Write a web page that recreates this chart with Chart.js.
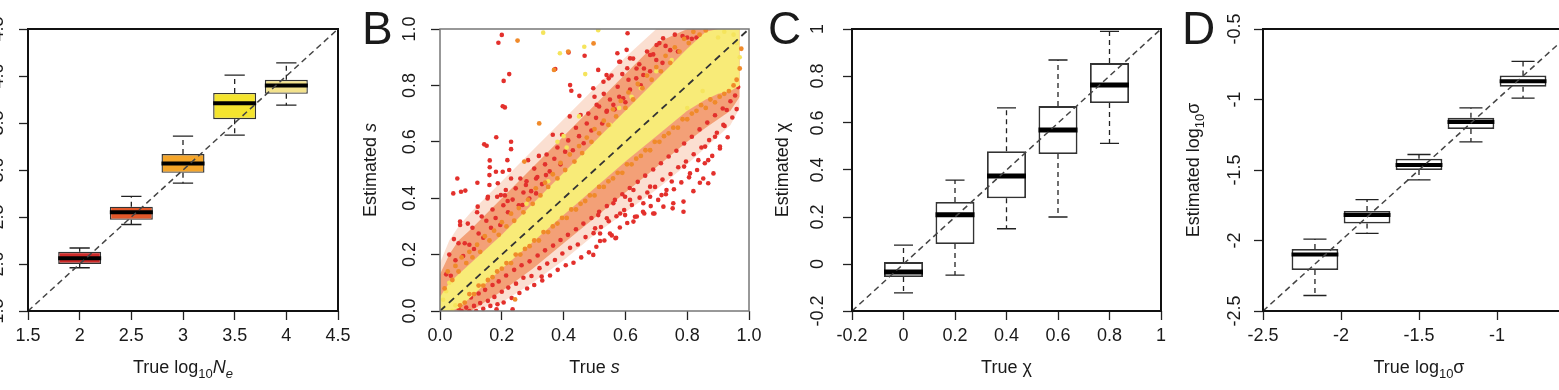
<!DOCTYPE html>
<html><head><meta charset="utf-8">
<script src="https://cdn.jsdelivr.net/npm/chart.js@4.4.1/dist/chart.umd.min.js"></script>
<style>
html,body{margin:0;padding:0;overflow:hidden;background:#fff;}
#wrap{position:relative;width:1559px;height:390px;overflow:hidden;background:#fff;}
canvas{position:absolute;top:0;}
</style></head><body>
<div id="wrap">
<canvas id="cA" style="left:-80px" width="460" height="390"></canvas>
<canvas id="cB" style="left:300px" width="480" height="390"></canvas>
<canvas id="cC" style="left:700px" width="480" height="390"></canvas>
<canvas id="cD" style="left:1100px" width="520" height="390"></canvas>
</div>
<script>
const FONT = '"Liberation Sans", Arial, Helvetica, sans-serif';

// ---------------- Panel A : log10 Ne ----------------
const aTrue  = [2, 2.5, 3, 3.5, 4];
const aLow   = [1.96, 2.42, 2.86, 3.37, 3.69];
const aQ1    = [2.00, 2.47, 2.97, 3.54, 3.81];
const aMed   = [2.06, 2.55, 3.07, 3.71, 3.90];
const aQ3    = [2.13, 2.61, 3.17, 3.82, 3.96];
const aHigh  = [2.17, 2.72, 3.36, 4.01, 4.14];
const aTicks = [1.5, 2, 2.5, 3, 3.5, 4, 4.5];
const aXLabels = ['1.5','2','2.5','3','3.5','4','4.5'];
const aYLabels = ['1.5','2.0','2.5','3.0','3.5','4.0','4.5'];

// ---------------- Panel B : s scatter ----------------
const bTicks  = [0, 0.2, 0.4, 0.6, 0.8, 1.0];
const bLabels = ['0.0','0.2','0.4','0.6','0.8','1.0'];
const bBandS   = [0, 0.03, 0.06, 0.1, 0.2, 0.3, 0.4, 0.5, 0.6, 0.7, 0.8, 0.86, 0.9, 0.94, 0.97];
const bCoreHi  = [0.05, 0.10, 0.13, 0.17, 0.27, 0.38, 0.49, 0.60, 0.71, 0.82, 0.93, 0.99, 1.0, 1.0, 1.0];
const bCoreLo  = [0.0, 0.0, 0.01, 0.05, 0.15, 0.245, 0.34, 0.435, 0.53, 0.62, 0.71, 0.75, 0.77, 0.78, 0.80];
const bMidHi   = [0.13, 0.20, 0.25, 0.29, 0.40, 0.51, 0.62, 0.73, 0.84, 0.95, 1.0, 1.0, 1.0, 1.0, 1.0];
const bMidLo   = [0.0, 0.0, 0.0, 0.0, 0.07, 0.15, 0.24, 0.33, 0.42, 0.51, 0.60, 0.65, 0.68, 0.71, 0.76];
const bFringeHi = [0.17, 0.25, 0.30, 0.35, 0.46, 0.57, 0.68, 0.79, 0.90, 1.0, 1.0, 1.0, 1.0, 1.0, 1.0];
const bFringeLo = [0.0, 0.0, 0.0, 0.0, 0.03, 0.10, 0.18, 0.27, 0.35, 0.43, 0.52, 0.58, 0.62, 0.66, 0.72];
const bRed = [
 // sparse upper outliers
 [0.200,0.979],[0.189,0.951],[0.206,0.816],[0.224,0.840],[0.203,0.726],[0.210,0.722],[0.182,0.616],[0.143,0.591],[0.151,0.586],
 [0.161,0.534],[0.161,0.510],[0.056,0.470],[0.043,0.417],[0.068,0.423],[0.082,0.427],[0.121,0.455],[0.065,0.317],[0.373,0.858],
 [0.416,0.917],[0.421,0.801],[0.425,0.781],[0.451,0.763],[0.468,0.905],[0.512,0.855],[0.574,0.914],[0.607,0.985],[0.606,0.861],
 [0.580,0.884],[0.539,0.837],[0.546,0.825],[0.230,0.600],[0.230,0.574],[0.218,0.535],
 [0.154,0.399],[0.122,0.370],[0.160,0.482],[0.181,0.494],[0.203,0.494],[0.224,0.500],[0.160,0.447],[0.187,0.453],[0.213,0.429],
 [0.197,0.411],[0.219,0.390],[0.267,0.376],[0.289,0.399],[0.311,0.417],[0.278,0.447],[0.311,0.470],[0.343,0.482],
 [0.604,0.926],[0.583,0.884],[0.615,0.896],[0.636,0.860],[0.658,0.837],[0.529,0.813],[0.496,0.790],[0.507,0.731],[0.539,0.707],
 [0.561,0.731],[0.593,0.754],[0.701,0.943],[0.722,0.967],[0.680,0.908],
 // dense upper band
 [0.02,0.13],[0.03,0.20],[0.035,0.125],[0.045,0.255],[0.05,0.18],[0.06,0.24],[0.065,0.305],[0.075,0.195],[0.08,0.24],[0.09,0.31],
 [0.095,0.235],[0.105,0.295],[0.11,0.22],[0.12,0.35],[0.125,0.275],[0.135,0.335],[0.14,0.26],[0.15,0.32],[0.155,0.405],[0.165,0.295],
 [0.17,0.36],[0.18,0.33],[0.185,0.405],[0.195,0.305],[0.205,0.375],[0.21,0.41],[0.22,0.35],[0.23,0.47],[0.235,0.395],[0.245,0.435],
 [0.255,0.375],[0.26,0.47],[0.27,0.42],[0.28,0.46],[0.285,0.535],[0.295,0.425],[0.305,0.505],[0.315,0.475],[0.32,0.55],[0.33,0.45],
 [0.34,0.52],[0.345,0.555],[0.355,0.495],[0.365,0.625],[0.37,0.54],[0.38,0.58],[0.39,0.52],[0.395,0.625],[0.405,0.565],[0.415,0.605],
 [0.42,0.69],[0.43,0.57],[0.44,0.65],[0.45,0.62],[0.455,0.695],[0.465,0.595],[0.475,0.665],[0.48,0.70],[0.49,0.64],[0.50,0.76],
 [0.505,0.685],[0.515,0.725],[0.525,0.665],[0.53,0.77],[0.54,0.71],[0.55,0.75],[0.555,0.835],[0.565,0.715],[0.575,0.795],[0.58,0.76],
 [0.59,0.84],[0.60,0.74],[0.61,0.82],[0.615,0.785],[0.625,0.895],[0.635,0.825],[0.645,0.875],[0.65,0.80],[0.66,0.86],[0.67,0.92],
 [0.68,0.85],[0.69,0.91],[0.70,0.89],[0.71,0.95],[0.72,0.88],[0.73,0.94],[0.745,0.925],[0.76,0.98],[0.77,0.92],[0.785,0.975],
 [0.80,0.97],[0.815,0.965],[0.83,0.97],
 // dense lower band
 [0.06,0.01],[0.07,0.0],[0.075,0.035],[0.085,0.012],[0.095,0.0],[0.10,0.048],[0.11,0.018],[0.117,0.0],[0.125,0.062],[0.13,0.028],
 [0.14,0.008],[0.146,0.075],[0.155,0.036],[0.163,0.018],[0.17,0.092],[0.176,0.05],[0.186,0.024],[0.19,0.105],[0.20,0.068],[0.206,0.03],
 [0.214,0.126],[0.221,0.083],[0.232,0.046],[0.24,0.146],[0.246,0.097],[0.257,0.064],[0.264,0.162],[0.27,0.118],[0.282,0.08],[0.29,0.176],
 [0.296,0.124],[0.305,0.092],[0.316,0.197],[0.322,0.152],[0.331,0.108],[0.34,0.215],[0.347,0.168],[0.356,0.126],[0.366,0.232],[0.372,0.181],
 [0.381,0.146],[0.39,0.252],[0.396,0.204],[0.407,0.162],[0.414,0.27],[0.421,0.224],[0.432,0.171],[0.44,0.29],[0.446,0.236],[0.457,0.19],
 [0.464,0.31],[0.471,0.262],[0.482,0.208],[0.49,0.33],[0.497,0.276],[0.506,0.228],[0.515,0.352],[0.521,0.298],[0.532,0.25],[0.54,0.372],
 [0.546,0.318],[0.556,0.268],[0.566,0.394],[0.571,0.336],[0.582,0.296],[0.59,0.414],[0.596,0.358],[0.606,0.312],[0.614,0.436],[0.621,0.376],
 [0.631,0.334],[0.64,0.458],[0.646,0.402],[0.657,0.352],[0.664,0.48],[0.671,0.42],[0.682,0.372],[0.69,0.502],[0.696,0.44],[0.706,0.394],
 [0.715,0.524],[0.72,0.466],[0.731,0.414],[0.74,0.548],[0.746,0.486],[0.757,0.432],[0.765,0.568],[0.771,0.51],[0.781,0.456],[0.79,0.594],
 [0.796,0.53],[0.806,0.474],[0.815,0.618],[0.821,0.556],[0.832,0.5],[0.84,0.644],[0.846,0.58],[0.857,0.524],[0.865,0.668],[0.871,0.606],
 [0.881,0.55],[0.89,0.694],[0.896,0.632],[0.906,0.576],[0.915,0.718],[0.921,0.656],[0.931,0.616],[0.94,0.744],[0.946,0.686],[0.955,0.764],
 [0.96,0.716],[0.965,0.794],
 // sparse lower outliers
 [0.788,0.388],[0.755,0.382],[0.717,0.411],[0.694,0.346],[0.661,0.346],[0.658,0.382],[0.750,0.459],[0.841,0.455],[0.868,0.453],
 [0.885,0.488],[0.906,0.583],[0.917,0.660],[0.928,0.713],[0.890,0.618],[0.858,0.583],[0.836,0.535],[0.809,0.488],[0.790,0.512],
 [0.868,0.535],[0.496,0.199],[0.568,0.258],[0.518,0.275],[0.550,0.275],[0.583,0.346],[0.615,0.394],[0.626,0.429],[0.599,0.405],
 [0.680,0.441],[0.723,0.370],[0.561,0.382],[0.329,0.122],[0.235,0.006],[0.183,0.006],[0.626,0.317],[0.599,0.340],[0.637,0.335],
 [0.690,0.346],[0.680,0.405],[0.753,0.364],[0.788,0.352],[0.733,0.429],[0.820,0.425],[0.852,0.470],[0.518,0.248],[0.570,0.260],
 [0.502,0.293],[0.540,0.329],[0.512,0.340]
];
const bOrange = [
 [0.015,0.08],[0.025,0.14],[0.04,0.11],[0.05,0.16],[0.06,0.14],[0.07,0.19],[0.085,0.17],[0.095,0.21],[0.105,0.19],[0.12,0.235],
 [0.13,0.21],[0.145,0.265],[0.16,0.25],[0.175,0.285],[0.19,0.27],[0.20,0.315],[0.215,0.30],[0.23,0.345],[0.24,0.32],[0.255,0.365],
 [0.27,0.35],[0.285,0.395],[0.30,0.38],[0.31,0.435],[0.325,0.41],[0.34,0.455],[0.35,0.44],[0.365,0.485],[0.38,0.47],[0.39,0.525],
 [0.405,0.50],[0.42,0.555],[0.435,0.53],[0.45,0.585],[0.46,0.56],[0.475,0.615],[0.49,0.60],[0.50,0.645],[0.515,0.63],[0.53,0.675],
 [0.545,0.66],[0.56,0.715],[0.57,0.69],[0.585,0.745],[0.60,0.72],[0.61,0.775],[0.625,0.75],[0.64,0.805],[0.655,0.79],[0.67,0.835],
 [0.685,0.82],[0.70,0.865],[0.715,0.85],[0.73,0.905],[0.745,0.88],[0.76,0.935],[0.775,0.92],[0.79,0.965],[0.805,0.95],[0.82,0.99],
 [0.84,0.98],[0.86,0.995],
 [0.065,0.02],[0.08,0.03],[0.095,0.06],[0.11,0.06],[0.125,0.09],[0.14,0.09],[0.155,0.11],[0.17,0.12],[0.185,0.14],[0.20,0.15],
 [0.215,0.17],[0.23,0.17],[0.245,0.20],[0.26,0.20],[0.275,0.22],[0.29,0.23],[0.305,0.25],[0.32,0.25],[0.335,0.28],[0.35,0.28],
 [0.365,0.30],[0.38,0.31],[0.395,0.33],[0.41,0.33],[0.425,0.36],[0.44,0.36],[0.455,0.38],[0.47,0.39],[0.485,0.41],[0.50,0.41],
 [0.515,0.44],[0.53,0.44],[0.545,0.46],[0.56,0.47],[0.575,0.49],[0.59,0.49],[0.605,0.52],[0.62,0.52],[0.635,0.54],[0.65,0.55],
 [0.665,0.57],[0.68,0.57],[0.695,0.60],[0.71,0.60],[0.725,0.62],[0.74,0.63],[0.755,0.65],[0.77,0.65],[0.785,0.68],[0.80,0.68],
 [0.815,0.70],[0.83,0.71],[0.845,0.73],[0.86,0.72],[0.875,0.75],[0.89,0.74],[0.905,0.76],[0.92,0.77],[0.935,0.78],[0.95,0.80],
 [0.96,0.82],[0.97,0.86],[0.975,0.93],
 [0.251,0.959],[0.415,0.920],[0.497,0.949],[0.273,0.530],[0.321,0.665],[0.369,0.855],[0.243,0.041]
];
const bYellow = [
 [0.334,0.987],[0.388,0.914],[0.467,0.937],[0.512,0.996],[0.470,0.840],[0.380,0.600],[0.400,0.620],[0.410,0.580],[0.450,0.690],
 [0.02,0.07],[0.03,0.10],[0.01,0.04],[0.04,0.00],[0.05,0.02],[0.95,0.98],[0.96,0.95],[0.97,0.90],[0.90,0.97],[0.92,0.99],
 [0.58,0.72],[0.62,0.76],[0.70,0.85],[0.75,0.89],[0.80,0.72],[0.85,0.78],[0.55,0.66],[0.65,0.79],[0.35,0.46],[0.28,0.38]
];

// ---------------- Panel C : chi ----------------
const cTrue = [0, 0.2, 0.4, 0.6, 0.8];
const cLow  = [-0.123, -0.047, 0.150, 0.200, 0.513];
const cQ1   = [-0.055, 0.085, 0.280, 0.468, 0.685];
const cMed  = [-0.034, 0.210, 0.375, 0.570, 0.762];
const cQ3   = [0.008, 0.264, 0.480, 0.672, 0.855];
const cHigh = [0.080, 0.357, 0.664, 0.868, 0.990];
const cTicks = [-0.2, 0, 0.2, 0.4, 0.6, 0.8, 1];
const cLabels = ['-0.2','0','0.2','0.4','0.6','0.8','1'];

// ---------------- Panel D : log10 sigma ----------------
const dTrue = [-2.167, -1.833, -1.5, -1.167, -0.833];
const dLow  = [-2.39, -1.95, -1.57, -1.30, -0.99];
const dQ1   = [-2.21, -1.88, -1.50, -1.21, -0.91];
const dMed  = [-2.10, -1.82, -1.465, -1.16, -0.87];
const dQ3   = [-2.06, -1.79, -1.42, -1.13, -0.83];
const dHigh = [-1.99, -1.71, -1.39, -1.06, -0.73];
const dTicks = [-2.5, -2, -1.5, -1, -0.5];
const dLabels = ['-2.5','-2','-1.5','-1','-0.5'];

// ---------------- helpers ----------------
Chart.defaults.font.family = FONT;

function seg(t, o) { o = o || {}; return {t, size:o.size||18, italic:!!o.italic, dy:o.dy||0}; }
function drawRich(ctx, segs, x, y, rotate) {
  let total = 0;
  segs.forEach(s => { ctx.font = (s.italic?'italic ':'') + s.size + 'px ' + FONT; s.w = ctx.measureText(s.t).width; total += s.w; });
  ctx.save(); ctx.translate(x, y); if (rotate) ctx.rotate(-Math.PI/2);
  let cx = -total/2;
  segs.forEach(s => { ctx.font = (s.italic?'italic ':'') + s.size + 'px ' + FONT; ctx.fillText(s.t, cx, s.dy); cx += s.w; });
  ctx.restore();
}
function decorPlugin(spec) {
  return {
    id: 'decor',
    afterDatasetsDraw(chart) {
      const ctx = chart.ctx, a = chart.chartArea;
      ctx.save();
      ctx.strokeStyle = spec.frameColor; ctx.lineWidth = spec.frameWidth;
      ctx.strokeRect(a.left, a.top, a.right - a.left, a.bottom - a.top);
      ctx.restore();
    },
    afterDraw(chart) {
      const ctx = chart.ctx, a = chart.chartArea;
      ctx.save();
      ctx.fillStyle = '#1a1a1a'; ctx.textAlign = 'left'; ctx.textBaseline = 'alphabetic';
      if (spec.xTitle) drawRich(ctx, spec.xTitle, (a.left + a.right)/2, 373, false);
      if (spec.yTitle) drawRich(ctx, spec.yTitle, a.left - 64, (a.top + a.bottom)/2, true);
      if (spec.letter) { ctx.font = '46px ' + FONT; ctx.fillText(spec.letter, spec.letterX, 44); }
      ctx.restore();
    }
  };
}
function scalesCfg(o) {
  const grid = { display:true, drawOnChartArea:false, drawTicks:true, tickLength:9, tickWidth:1.3, tickColor:'#222', offset:false };
  return {
    x: {
      type:'linear', min:o.min, max:o.max, offset:false,
      afterBuildTicks: s => { s.ticks = o.ticks.map(v => ({value:v})); },
      afterFit: s => { s.height = 79; },
      ticks: { autoSkip:false, minRotation:0, maxRotation:0, padding:5, color:'#1a1a1a', font:{size:18, family:FONT}, callback:(v,i) => o.xLabels[i] },
      grid: grid, border: { display:false }
    },
    y: {
      type:'linear', min:o.min, max:o.max,
      afterBuildTicks: s => { s.ticks = o.ticks.map(v => ({value:v})); },
      afterFit: s => { s.width = o.left; },
      ticks: { autoSkip:false, minRotation:90, maxRotation:90, crossAlign:'center', padding:o.yPad, color:'#1a1a1a', font:{size:18, family:FONT}, callback:(v,i) => o.yLabels[i] },
      grid: grid, border: { display:false }
    }
  };
}
function boxplotSets(xs, lo, q1, med, q3, hi, st) {
  const whisk = [], caps = [], meds = [];
  xs.forEach((x, i) => {
    whisk.push({x, y:q3[i]}, {x, y:hi[i]}, {x, y:null}, {x, y:q1[i]}, {x, y:lo[i]}, {x, y:null});
    caps.push({x:x-st.capHalf, y:hi[i]}, {x:x+st.capHalf, y:hi[i]}, {x, y:null},
              {x:x-st.capHalf, y:lo[i]}, {x:x+st.capHalf, y:lo[i]}, {x, y:null});
    meds.push({x:x-st.boxHalf, y:med[i]}, {x:x+st.boxHalf, y:med[i]}, {x, y:null});
  });
  return [
    {type:'line', data:meds, borderColor:'#000', borderWidth:st.medWidth, borderCapStyle:'butt', pointRadius:0, spanGaps:false, fill:false, order:1},
    {type:'bar', data:xs.map((x,i) => ({x, y:[q1[i], q3[i]]})), backgroundColor:st.fill, borderColor:st.border,
     borderWidth:st.boxLine, borderSkipped:false, barPercentage:(2*st.boxHalf)/st.spacing, categoryPercentage:1, order:2},
    {type:'line', data:whisk, borderColor:'#222', borderWidth:1.3, borderDash:[5,4], pointRadius:0, spanGaps:false, fill:false, order:3},
    {type:'line', data:caps, borderColor:'#222', borderWidth:1.3, pointRadius:0, spanGaps:false, fill:false, order:3}
  ];
}
function diagSet(a, b, color, width, dash) {
  return {type:'line', data:[{x:a, y:a}, {x:b, y:b}], borderColor:color, borderWidth:width, borderDash:dash, pointRadius:0, fill:false, order:0};
}
function bandPair(lo, hi, color, order) {
  return [
    {type:'line', data:bBandS.map((x,i) => ({x, y:hi[i]})), borderWidth:0, borderColor:'rgba(0,0,0,0)', pointRadius:0, fill:'+1', backgroundColor:color, order},
    {type:'line', data:bBandS.map((x,i) => ({x, y:lo[i]})), borderWidth:0, borderColor:'rgba(0,0,0,0)', pointRadius:0, fill:false, order}
  ];
}
function baseOptions(o) {
  return {
    responsive:false, animation:false, devicePixelRatio:1, events:[],
    layout:{ padding:{ left:0, top:29, right:o.padRight, bottom:0 } },
    plugins:{ legend:{display:false}, tooltip:{enabled:false} },
    scales: scalesCfg(o)
  };
}

// ---------------- Chart A ----------------
new Chart(document.getElementById('cA'), {
  type:'scatter',
  data:{ datasets:[
    diagSet(1.5, 4.5, '#444', 1.5, [6,4]),
    ...boxplotSets(aTrue, aLow, aQ1, aMed, aQ3, aHigh,
      {fill:['#cf2a28','#e2582a','#f4a52a','#f4e42e','#f3e28c'], border:'#333', boxLine:1.4, medWidth:4, boxHalf:0.208, capHalf:0.098, spacing:0.5})
  ]},
  options: baseOptions({min:1.5, max:4.5, ticks:aTicks, xLabels:aXLabels, yLabels:aYLabels, left:108, padRight:42, yPad:8.5}),
  plugins:[decorPlugin({frameColor:'#111', frameWidth:2,
    xTitle:[seg('True log'), seg('10',{size:13,dy:5}), seg('N',{italic:true}), seg('e',{italic:true,size:13,dy:5})]})]
});

// ---------------- Chart B ----------------
const pts = arr => arr.map(p => ({x:p[0], y:p[1]}));
new Chart(document.getElementById('cB'), {
  type:'scatter',
  data:{ datasets:[
    diagSet(0, 1, '#333', 1.8, [7,5]),
    {type:'scatter', data:pts(bOrange), pointRadius:2.4, pointBackgroundColor:'#f08a2a', pointBorderWidth:0, order:2},
    {type:'scatter', data:pts(bYellow), pointRadius:2.3, pointBackgroundColor:'#f5e45c', pointBorderWidth:0, order:3},
    ...bandPair(bCoreLo, bCoreHi, '#f8eb78', 4),
    {type:'scatter', data:pts(bRed), pointRadius:2.3, pointBackgroundColor:'#e3302c', pointBorderWidth:0, order:6},
    ...bandPair(bMidLo, bMidHi, 'rgba(236,110,45,0.55)', 7),
    ...bandPair(bFringeLo, bFringeHi, 'rgba(236,110,45,0.22)', 8)
  ]},
  options: baseOptions({min:0, max:1, ticks:bTicks, xLabels:bLabels, yLabels:bLabels, left:140, padRight:31, yPad:8.5}),
  plugins:[decorPlugin({frameColor:'#777', frameWidth:1.5, letter:'B', letterX:62,
    xTitle:[seg('True '), seg('s',{italic:true})],
    yTitle:[seg('Estimated '), seg('s',{italic:true})]})]
});

// ---------------- Chart C ----------------
new Chart(document.getElementById('cC'), {
  type:'scatter',
  data:{ datasets:[
    diagSet(-0.2, 1, '#444', 1.5, [6,4]),
    ...boxplotSets(cTrue, cLow, cQ1, cMed, cQ3, cHigh,
      {fill:'#ffffff', border:'#333', boxLine:1.8, medWidth:5, boxHalf:0.0757, capHalf:0.037, spacing:0.2})
  ]},
  options: baseOptions({min:-0.2, max:1, ticks:cTicks, xLabels:cLabels, yLabels:cLabels, left:152, padRight:19, yPad:9.5}),
  plugins:[decorPlugin({frameColor:'#111', frameWidth:2, letter:'C', letterX:68,
    xTitle:[seg('True \u03c7')], yTitle:[seg('Estimated \u03c7')]})]
});

// ---------------- Chart D ----------------
new Chart(document.getElementById('cD'), {
  type:'scatter',
  data:{ datasets:[
    diagSet(-2.5, -0.5, '#444', 1.5, [6,4]),
    ...boxplotSets(dTrue, dLow, dQ1, dMed, dQ3, dHigh,
      {fill:'#ffffff', border:'#333', boxLine:1.8, medWidth:4, boxHalf:0.15, capHalf:0.074, spacing:0.3333})
  ]},
  options: baseOptions({min:-2.5, max:-0.5, ticks:dTicks, xLabels:dLabels, yLabels:dLabels, left:163, padRight:45, yPad:3.5}),
  plugins:[decorPlugin({frameColor:'#111', frameWidth:2, letter:'D', letterX:82,
    xTitle:[seg('True log'), seg('10',{size:13,dy:5}), seg('\u03c3')],
    yTitle:[seg('Estimated log'), seg('10',{size:13,dy:5}), seg('\u03c3')]})]
});
</script>
</body></html>
